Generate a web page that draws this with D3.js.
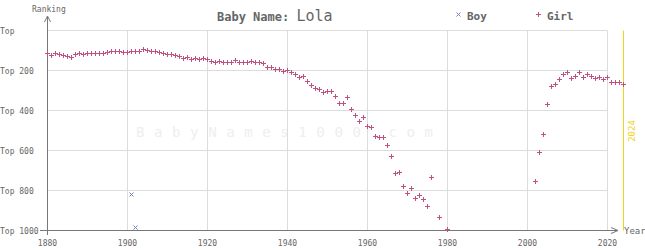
<!DOCTYPE html>
<html>
<head>
<meta charset="utf-8">
<script src="https://cdn.jsdelivr.net/npm/d3@7"></script>
<style>
  body { margin: 0; background: #fff; }
  svg { display: block; font-family: "DejaVu Sans Mono", monospace; }
</style>
</head>
<body>
<svg id="chart" width="645" height="250"></svg>
<script>
// data
const xTicks = [1880, 1900, 1920, 1940, 1960, 1980, 2000, 2020];
const yTicks = [0, 200, 400, 600, 800, 1000];
const yTickLabels = ["Top", "Top 200", "Top 400", "Top 600", "Top 800", "Top 1000"];

const girlYears = [
  1880, 1881, 1882, 1883, 1884, 1885, 1886, 1887, 1888, 1889,
  1890, 1891, 1892, 1893, 1894, 1895, 1896, 1897, 1898, 1899,
  1900, 1901, 1902, 1903, 1904, 1905, 1906, 1907, 1908, 1909,
  1910, 1911, 1912, 1913, 1914, 1915, 1916, 1917, 1918, 1919,
  1920, 1921, 1922, 1923, 1924, 1925, 1926, 1927, 1928, 1929,
  1930, 1931, 1932, 1933, 1934, 1935, 1936, 1937, 1938, 1939,
  1940, 1941, 1942, 1943, 1944, 1945, 1946, 1947, 1948, 1949,
  1950, 1951, 1952, 1953, 1954, 1955, 1956, 1957, 1958, 1959,
  1960, 1961, 1962, 1963, 1964, 1965, 1966, 1967, 1968, 1969,
  1970, 1971, 1972, 1973, 1974, 1975, 1976, 1978, 1980,
  2002, 2003, 2004, 2005, 2006, 2007, 2008, 2009, 2010, 2011,
  2012, 2013, 2014, 2015, 2016, 2017, 2018, 2019, 2020, 2021,
  2022, 2023, 2024
];
const girlRanks = [
  117, 127, 117, 122, 127, 132, 137, 122, 117, 122,
  117, 117, 117, 117, 117, 112, 107, 107, 107, 112,
  112, 107, 107, 107, 97, 102, 107, 107, 112, 117,
  122, 122, 127, 132, 142, 137, 147, 142, 147, 142,
  147, 157, 162, 157, 162, 162, 162, 152, 162, 162,
  162, 157, 162, 162, 167, 187, 187, 197, 197, 207,
  202, 212, 222, 237, 232, 257, 277, 292, 297, 312,
  307, 307, 332, 367, 367, 337, 397, 427, 457, 437,
  482, 487, 532, 537, 537, 577, 632, 717, 712, 782,
  817, 792, 842, 827, 847, 882, 737, 937, 997,
  757, 612, 522, 372, 282, 272, 247, 222, 212, 242,
  232, 212, 237, 222, 232, 242, 237, 247, 237, 262,
  262, 262, 272
];

const boyYears = [1901, 1902];
const boyRanks = [822, 987];

const currentYear = 2024;

const svg = d3.select("#chart");
const x = d3.scaleLinear().domain([1880, 2020]).range([47.5, 607.5]);
const y = d3.scaleLinear().domain([0, 1000]).range([30.5, 230.5]);
const py = v => Math.round(y(v) - 0.5) + 0.5;

const grid = "#dcdcdc", axisCol = "#777", textCol = "#666";

// watermark
svg.append("text")
    .attr("x", 136).attr("y", 137)
    .attr("textLength", 297).attr("lengthAdjust", "spacing")
    .style("font-size", "14px").style("fill", "#eeeeee")
    .text("BabyNames1000.com");

// grid lines
svg.append("g").selectAll("line").data(yTicks).join("line")
    .attr("x1", x(1880)).attr("x2", x(2020))
    .attr("y1", d => y(d)).attr("y2", d => y(d))
    .attr("stroke", grid).attr("stroke-width", 1);

svg.append("g").selectAll("line").data(xTicks.slice(1)).join("line")
    .attr("x1", d => x(d)).attr("x2", d => x(d))
    .attr("y1", y(0)).attr("y2", y(1000))
    .attr("stroke", grid).attr("stroke-width", 1);

// current year marker
svg.append("line")
    .attr("x1", x(currentYear)).attr("x2", x(currentYear))
    .attr("y1", y(0)).attr("y2", y(1000))
    .attr("stroke", "#f2d21a").attr("stroke-width", 1);
svg.append("text")
    .attr("transform", `translate(${x(currentYear) + 11},131) rotate(-90)`)
    .attr("text-anchor", "middle")
    .style("font-size", "9px").style("fill", "#f2d21a")
    .text(String(currentYear));

// axes
svg.append("line")
    .attr("x1", 47.5).attr("x2", 47.5).attr("y1", 16).attr("y2", 235)
    .attr("stroke", axisCol).attr("stroke-width", 1);
svg.append("path")
    .attr("d", "M44.5,22 L47.5,16 L50.5,22")
    .attr("fill", "none").attr("stroke", axisCol);
svg.append("line")
    .attr("x1", 40).attr("x2", 617).attr("y1", y(1000)).attr("y2", y(1000))
    .attr("stroke", axisCol).attr("stroke-width", 1);
svg.append("path")
    .attr("d", `M611,${y(1000) - 3} L618,${y(1000)} L611,${y(1000) + 3}`)
    .attr("fill", "none").attr("stroke", axisCol);

svg.append("text")
    .attr("x", 32).attr("y", 12)
    .style("font-size", "8px").style("fill", textCol)
    .text("Ranking");
svg.append("text")
    .attr("x", 624).attr("y", 234)
    .style("font-size", "9px").style("fill", textCol)
    .text("Year");

svg.append("g").selectAll("text").data(yTicks).join("text")
    .attr("x", 0).attr("y", d => y(d) + 3)
    .style("font-size", "8px").style("fill", textCol)
    .text((d, i) => yTickLabels[i]);

svg.append("g").selectAll("text").data(xTicks).join("text")
    .attr("x", d => x(d)).attr("y", 246)
    .attr("text-anchor", "middle")
    .style("font-size", "8px").style("fill", textCol)
    .text(d => d);

// title
const title = svg.append("text").attr("x", 217).attr("y", 21).style("fill", textCol);
title.append("tspan").style("font-size", "12px").style("font-weight", "bold").text("Baby Name: ");
title.append("tspan").style("font-size", "15px").text("Lola");

// legend
const girlCol = "#c0507e", boyCol = "#6d7fc0";
const plus = (cx, cy) => `M${cx - 2.5},${cy}H${cx + 2.5}M${cx},${cy - 2.5}V${cy + 2.5}`;
const cross = (cx, cy) => `M${cx - 2},${cy - 2}L${cx + 2},${cy + 2}M${cx - 2},${cy + 2}L${cx + 2},${cy - 2}`;

svg.append("path").attr("d", cross(458.5, 14.5)).attr("stroke", boyCol).attr("stroke-width", 1);
svg.append("text").attr("x", 467).attr("y", 20)
    .style("font-size", "11px").style("font-weight", "bold").style("fill", textCol).text("Boy");
svg.append("path").attr("d", plus(538.5, 14.5)).attr("stroke", girlCol)
    .attr("stroke-width", 1).attr("shape-rendering", "crispEdges");
svg.append("text").attr("x", 547).attr("y", 20)
    .style("font-size", "11px").style("font-weight", "bold").style("fill", textCol).text("Girl");

// points
svg.append("g").selectAll("path").data(girlYears).join("path")
    .attr("d", (d, i) => plus(x(d), py(girlRanks[i])))
    .attr("stroke", girlCol).attr("stroke-width", 1)
    .attr("shape-rendering", "crispEdges");

svg.append("g").selectAll("path").data(boyYears).join("path")
    .attr("d", (d, i) => cross(x(d), py(boyRanks[i])))
    .attr("stroke", boyCol).attr("stroke-width", 1);
</script>
</body>
</html>
